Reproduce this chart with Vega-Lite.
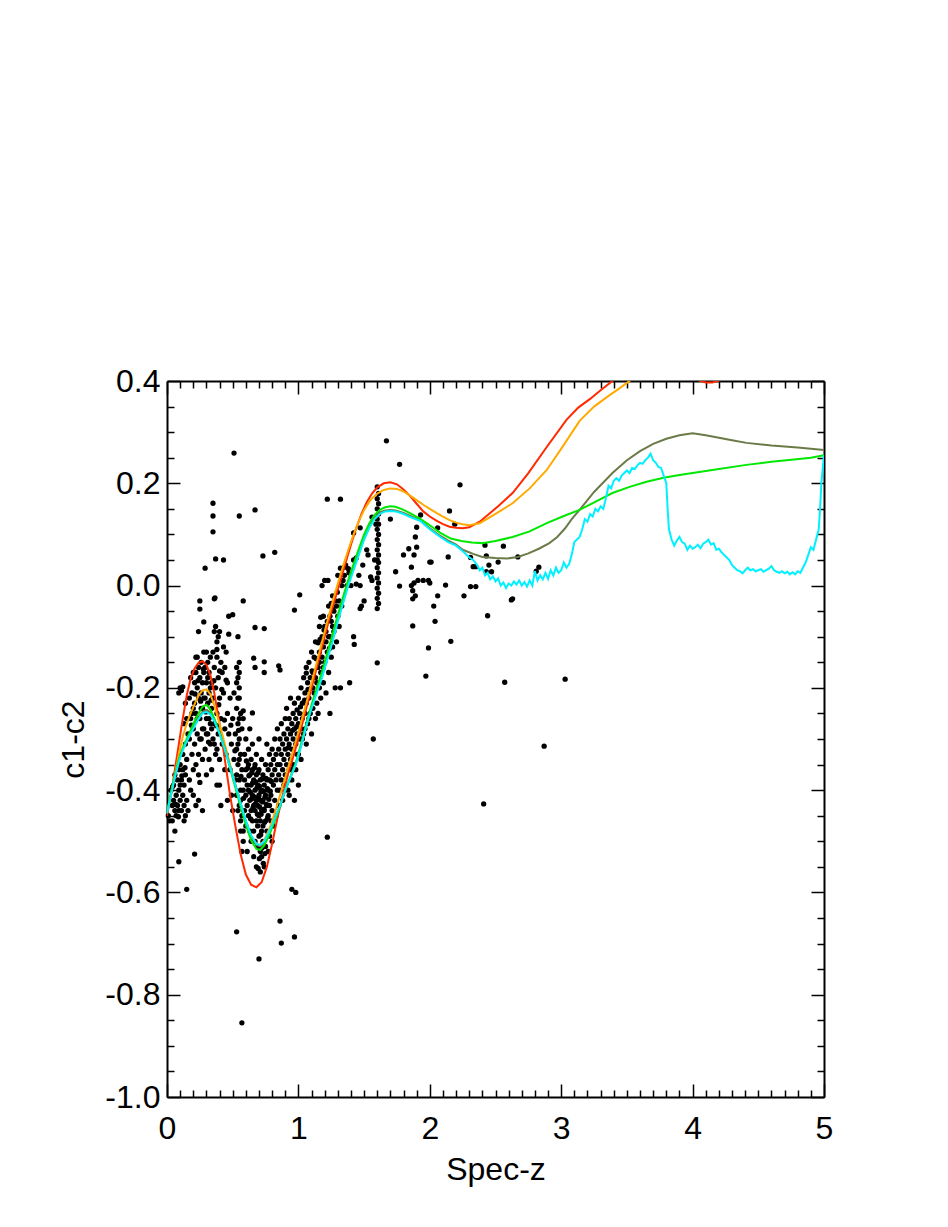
{
"$schema":"https://vega.github.io/schema/vega-lite/v6.json",
"width":657,"height":716,
"autosize":{"type":"none"},
"padding":{"left":167,"top":381,"right":124,"bottom":130},
"background":"white",
"config":{"view":{"stroke":null},"font":"Liberation Sans","axis":{"grid":false,"domainColor":"black","domainWidth":2,"tickColor":"black","tickWidth":1.5,"labelColor":"black","titleColor":"black","labelFont":"Liberation Sans","titleFont":"Liberation Sans","labelFontSize":32,"titleFontSize":32,"titleFontWeight":"normal","labelOverlap":false,"labelBound":false,"labelFlush":false}},
"datasets":{
"pts":[
{"z":0.01,"c":-0.45},{"z":0.02,"c":-0.46},{"z":0.04,"c":-0.46},{"z":0.05,"c":-0.42},{"z":0.05,"c":-0.39},{"z":0.06,"c":-0.44},{"z":0.06,"c":-0.37},{"z":0.07,"c":-0.41},{"z":0.07,"c":-0.45},{"z":0.08,"c":-0.38},{"z":0.08,"c":-0.43},{"z":0.09,"c":-0.36},{"z":0.09,"c":-0.40},{"z":0.09,"c":-0.44},{"z":0.10,"c":-0.39},{"z":0.10,"c":-0.42},{"z":0.10,"c":-0.35},{"z":0.11,"c":-0.38},{"z":0.11,"c":-0.44},{"z":0.12,"c":-0.41},{"z":0.12,"c":-0.36},{"z":0.12,"c":-0.33},{"z":0.13,"c":-0.39},{"z":0.13,"c":-0.43},{"z":0.14,"c":-0.37},{"z":0.14,"c":-0.31},{"z":0.15,"c":-0.34},{"z":0.15,"c":-0.42},{"z":0.16,"c":-0.29},{"z":0.03,"c":-0.40},{"z":0.04,"c":-0.43},{"z":0.11,"c":-0.33},{"z":0.09,"c":-0.21},{"z":0.10,"c":-0.20},{"z":0.11,"c":-0.205},{"z":0.12,"c":-0.198},{"z":0.14,"c":-0.23},{"z":0.13,"c":-0.27},{"z":0.15,"c":-0.26},{"z":0.09,"c":-0.54},{"z":0.15,"c":-0.594},{"z":0.21,"c":-0.525},{"z":0.06,"c":-0.48},{"z":0.13,"c":-0.46},
{"z":0.17,"c":-0.22},{"z":0.17,"c":-0.30},{"z":0.18,"c":-0.26},{"z":0.18,"c":-0.18},{"z":0.19,"c":-0.21},{"z":0.19,"c":-0.33},{"z":0.20,"c":-0.24},{"z":0.20,"c":-0.17},{"z":0.20,"c":-0.28},{"z":0.21,"c":-0.19},{"z":0.21,"c":-0.31},{"z":0.22,"c":-0.14},{"z":0.22,"c":-0.17},{"z":0.22,"c":-0.25},{"z":0.22,"c":-0.35},{"z":0.23,"c":-0.20},{"z":0.23,"c":-0.29},{"z":0.23,"c":-0.14},{"z":0.24,"c":-0.16},{"z":0.24,"c":-0.22},{"z":0.24,"c":-0.09},{"z":0.24,"c":-0.33},{"z":0.25,"c":-0.18},{"z":0.25,"c":-0.385},{"z":0.25,"c":-0.03},{"z":0.25,"c":-0.046},{"z":0.25,"c":-0.26},{"z":0.26,"c":-0.21},{"z":0.26,"c":-0.30},{"z":0.26,"c":-0.15},{"z":0.27,"c":-0.19},{"z":0.27,"c":-0.24},{"z":0.27,"c":-0.34},{"z":0.28,"c":-0.071},{"z":0.28,"c":-0.17},{"z":0.28,"c":-0.28},{"z":0.28,"c":-0.13},{"z":0.29,"c":0.034},{"z":0.29,"c":-0.22},{"z":0.29,"c":-0.32},{"z":0.30,"c":-0.13},{"z":0.30,"c":-0.19},{"z":0.30,"c":-0.26},{"z":0.30,"c":-0.37},{"z":0.20,"c":-0.41},{"z":0.22,"c":-0.43},{"z":0.18,"c":-0.40},{"z":0.27,"c":-0.44},{"z":0.24,"c":-0.42},
{"z":0.19,"c":-0.25},{"z":0.21,"c":-0.23},{"z":0.23,"c":-0.26},{"z":0.26,"c":-0.24},{"z":0.28,"c":-0.22},{"z":0.30,"c":-0.29},{"z":0.32,"c":-0.26},{"z":0.34,"c":-0.28},{"z":0.36,"c":-0.31},{"z":0.38,"c":-0.32},{"z":0.33,"c":-0.20},{"z":0.31,"c":-0.18},{"z":0.29,"c":-0.16},{"z":0.27,"c":-0.28},{"z":0.25,"c":-0.30},{"z":0.24,"c":-0.37},{"z":0.20,"c":-0.36},{"z":0.17,"c":-0.38},{"z":0.16,"c":-0.44},{"z":0.14,"c":-0.45},
{"z":0.31,"c":-0.15},{"z":0.31,"c":-0.29},{"z":0.31,"c":-0.23},{"z":0.32,"c":-0.17},{"z":0.32,"c":-0.34},{"z":0.32,"c":-0.21},{"z":0.33,"c":-0.14},{"z":0.33,"c":-0.27},{"z":0.33,"c":-0.31},{"z":0.34,"c":-0.19},{"z":0.34,"c":-0.24},{"z":0.34,"c":-0.36},{"z":0.35,"c":0.161},{"z":0.35,"c":0.136},{"z":0.35,"c":0.105},{"z":0.35,"c":-0.13},{"z":0.35,"c":-0.22},{"z":0.35,"c":-0.30},{"z":0.36,"c":-0.026},{"z":0.365,"c":-0.024},{"z":0.36,"c":-0.09},{"z":0.36,"c":-0.16},{"z":0.36,"c":-0.27},{"z":0.37,"c":0.052},{"z":0.37,"c":-0.08},{"z":0.37,"c":-0.20},{"z":0.37,"c":-0.33},{"z":0.38,"c":-0.11},{"z":0.38,"c":-0.125},{"z":0.38,"c":-0.14},{"z":0.38,"c":-0.25},{"z":0.38,"c":-0.39},{"z":0.39,"c":-0.10},{"z":0.39,"c":-0.18},{"z":0.39,"c":-0.29},{"z":0.40,"c":-0.167},{"z":0.40,"c":-0.09},{"z":0.40,"c":-0.22},{"z":0.40,"c":-0.39},{"z":0.40,"c":-0.34},{"z":0.41,"c":-0.15},{"z":0.41,"c":-0.26},{"z":0.41,"c":-0.43},{"z":0.42,"c":-0.17},{"z":0.42,"c":-0.31},{"z":0.43,"c":0.05},{"z":0.43,"c":-0.12},{"z":0.43,"c":-0.21},{"z":0.44,"c":-0.16},{"z":0.44,"c":-0.28},{"z":0.44,"c":-0.36},{"z":0.45,"c":-0.185},{"z":0.45,"c":-0.13},{"z":0.45,"c":-0.33},{"z":0.46,"c":-0.19},{"z":0.46,"c":-0.25},{"z":0.46,"c":-0.42},
{"z":0.47,"c":-0.06},{"z":0.47,"c":-0.095},{"z":0.47,"c":-0.29},{"z":0.48,"c":-0.22},{"z":0.48,"c":-0.36},{"z":0.49,"c":-0.31},{"z":0.49,"c":-0.41},{"z":0.50,"c":-0.057},{"z":0.50,"c":-0.26},{"z":0.50,"c":-0.44},{"z":0.51,"c":0.259},{"z":0.51,"c":-0.34},{"z":0.51,"c":-0.21},{"z":0.52,"c":-0.38},{"z":0.52,"c":-0.29},{"z":0.53,"c":-0.16},{"z":0.53,"c":-0.24},{"z":0.53,"c":-0.32},{"z":0.53,"c":-0.41},{"z":0.53,"c":-0.677},{"z":0.54,"c":-0.10},{"z":0.54,"c":-0.18},{"z":0.54,"c":-0.27},{"z":0.54,"c":-0.35},{"z":0.54,"c":-0.44},{"z":0.55,"c":0.136},{"z":0.55,"c":-0.15},{"z":0.55,"c":-0.17},{"z":0.55,"c":-0.20},{"z":0.55,"c":-0.22},{"z":0.55,"c":-0.30},{"z":0.55,"c":-0.38},{"z":0.56,"c":-0.25},{"z":0.56,"c":-0.33},{"z":0.56,"c":-0.42},{"z":0.56,"c":-0.46},{"z":0.57,"c":-0.855},{"z":0.57,"c":-0.28},{"z":0.57,"c":-0.36},{"z":0.58,"c":-0.03},{"z":0.58,"c":-0.245},{"z":0.58,"c":-0.26},{"z":0.58,"c":-0.40},{"z":0.58,"c":-0.48},
{"z":0.53,"c":-0.19},{"z":0.54,"c":-0.22},{"z":0.55,"c":-0.26},{"z":0.54,"c":-0.31},{"z":0.55,"c":-0.34},{"z":0.53,"c":-0.37},{"z":0.56,"c":-0.40},{"z":0.55,"c":-0.43},{"z":0.57,"c":-0.45},{"z":0.56,"c":-0.48},{"z":0.58,"c":-0.50},{"z":0.57,"c":-0.52},
{"z":0.59,"c":-0.33},{"z":0.59,"c":-0.38},{"z":0.59,"c":-0.44},{"z":0.60,"c":-0.36},{"z":0.60,"c":-0.41},{"z":0.60,"c":-0.47},{"z":0.60,"c":-0.30},{"z":0.61,"c":-0.39},{"z":0.61,"c":-0.43},{"z":0.61,"c":-0.52},{"z":0.62,"c":-0.35},{"z":0.62,"c":-0.40},{"z":0.62,"c":-0.45},{"z":0.62,"c":-0.32},{"z":0.63,"c":-0.37},{"z":0.63,"c":-0.42},{"z":0.63,"c":-0.48},{"z":0.63,"c":-0.28},{"z":0.64,"c":-0.34},{"z":0.64,"c":-0.39},{"z":0.64,"c":-0.44},{"z":0.64,"c":-0.50},{"z":0.65,"c":-0.249},{"z":0.65,"c":-0.36},{"z":0.65,"c":-0.41},{"z":0.65,"c":-0.46},{"z":0.65,"c":-0.31},{"z":0.66,"c":-0.142},{"z":0.66,"c":-0.38},{"z":0.66,"c":-0.43},{"z":0.66,"c":-0.48},{"z":0.66,"c":-0.53},{"z":0.67,"c":0.148},{"z":0.67,"c":-0.082},{"z":0.67,"c":-0.16},{"z":0.67,"c":-0.35},{"z":0.67,"c":-0.40},{"z":0.67,"c":-0.44},{"z":0.67,"c":-0.50},{"z":0.68,"c":-0.37},{"z":0.68,"c":-0.42},{"z":0.68,"c":-0.46},{"z":0.68,"c":-0.33},{"z":0.68,"c":-0.55},{"z":0.69,"c":-0.39},{"z":0.69,"c":-0.43},{"z":0.69,"c":-0.47},{"z":0.69,"c":-0.51},{"z":0.70,"c":-0.73},{"z":0.70,"c":-0.36},{"z":0.70,"c":-0.41},{"z":0.70,"c":-0.45},{"z":0.70,"c":-0.49},{"z":0.70,"c":-0.30},{"z":0.71,"c":-0.38},{"z":0.71,"c":-0.42},{"z":0.71,"c":-0.46},{"z":0.71,"c":-0.52},{"z":0.71,"c":-0.56},{"z":0.72,"c":-0.34},{"z":0.72,"c":-0.40},{"z":0.72,"c":-0.44},{"z":0.72,"c":-0.48},{"z":0.72,"c":-0.53},{"z":0.73,"c":0.058},{"z":0.73,"c":-0.37},{"z":0.73,"c":-0.42},{"z":0.73,"c":-0.47},{"z":0.73,"c":-0.50},{"z":0.74,"c":-0.149},{"z":0.74,"c":-0.084},{"z":0.74,"c":-0.17},{"z":0.74,"c":-0.39},{"z":0.74,"c":-0.44},{"z":0.74,"c":-0.55},{"z":0.75,"c":-0.35},{"z":0.75,"c":-0.41},{"z":0.75,"c":-0.46},{"z":0.75,"c":-0.51},{"z":0.76,"c":-0.38},{"z":0.76,"c":-0.43},{"z":0.76,"c":-0.48},{"z":0.76,"c":-0.31},{"z":0.77,"c":-0.36},{"z":0.77,"c":-0.40},{"z":0.77,"c":-0.45},{"z":0.77,"c":-0.52},{"z":0.78,"c":-0.33},{"z":0.78,"c":-0.38},{"z":0.78,"c":-0.43},{"z":0.78,"c":-0.49},{"z":0.79,"c":-0.35},{"z":0.79,"c":-0.41},{"z":0.79,"c":-0.46},{"z":0.80,"c":-0.32},{"z":0.80,"c":-0.37},{"z":0.80,"c":-0.44},{"z":0.80,"c":-0.50},{"z":0.81,"c":-0.39},{"z":0.81,"c":-0.34},{"z":0.81,"c":-0.47},{"z":0.82,"c":0.065},{"z":0.82,"c":-0.36},{"z":0.82,"c":-0.42},{"z":0.82,"c":-0.30},{"z":0.83,"c":-0.38},{"z":0.83,"c":-0.33},{"z":0.83,"c":-0.45},{"z":0.84,"c":-0.35},{"z":0.84,"c":-0.40},{"z":0.84,"c":-0.28},{"z":0.85,"c":-0.157},{"z":0.86,"c":-0.165},{"z":0.85,"c":-0.32},{"z":0.85,"c":-0.37},{"z":0.85,"c":-0.43},{"z":0.86,"c":-0.656},{"z":0.86,"c":-0.30},{"z":0.86,"c":-0.35},{"z":0.86,"c":-0.40},{"z":0.87,"c":-0.699},{"z":0.87,"c":-0.33},{"z":0.87,"c":-0.38},{"z":0.87,"c":-0.27},{"z":0.88,"c":-0.36},{"z":0.88,"c":-0.31},{"z":0.88,"c":-0.42},{"z":0.89,"c":-0.29},{"z":0.89,"c":-0.34},{"z":0.89,"c":-0.39},{"z":0.90,"c":-0.32},{"z":0.90,"c":-0.26},{"z":0.90,"c":-0.37},
{"z":0.623,"c":-0.372},{"z":0.634,"c":-0.404},{"z":0.645,"c":-0.417},{"z":0.652,"c":-0.386},{"z":0.664,"c":-0.413},{"z":0.667,"c":-0.356},{"z":0.676,"c":-0.384},{"z":0.673,"c":-0.427},{"z":0.684,"c":-0.396},{"z":0.688,"c":-0.447},{"z":0.693,"c":-0.366},{"z":0.697,"c":-0.414},{"z":0.705,"c":-0.433},{"z":0.703,"c":-0.392},{"z":0.715,"c":-0.403},{"z":0.716,"c":-0.447},{"z":0.724,"c":-0.378},{"z":0.727,"c":-0.423},{"z":0.735,"c":-0.402},{"z":0.738,"c":-0.437},{"z":0.745,"c":-0.414},{"z":0.743,"c":-0.463},{"z":0.754,"c":-0.377},{"z":0.757,"c":-0.428},{"z":0.764,"c":-0.397},{"z":0.766,"c":-0.454},{"z":0.775,"c":-0.418},{"z":0.786,"c":-0.402},{"z":0.794,"c":-0.383},{"z":0.703,"c":-0.534},{"z":0.722,"c":-0.513},{"z":0.733,"c":-0.543},{"z":0.694,"c":-0.553},{"z":0.745,"c":-0.524},{"z":0.713,"c":-0.487},{"z":0.655,"c":-0.434},{"z":0.636,"c":-0.456},{"z":0.614,"c":-0.357},{"z":0.646,"c":-0.366},{"z":0.604,"c":-0.343},
{"z":0.043,"c":-0.393},{"z":0.067,"c":-0.428},{"z":0.087,"c":-0.452},{"z":0.113,"c":-0.372},{"z":0.137,"c":-0.356},{"z":0.186,"c":-0.273},{"z":0.213,"c":-0.212},{"z":0.236,"c":-0.186},{"z":0.256,"c":-0.226},{"z":0.277,"c":-0.163},{"z":0.296,"c":-0.247},{"z":0.316,"c":-0.306},{"z":0.336,"c":-0.224},{"z":0.357,"c":-0.186},{"z":0.376,"c":-0.274},{"z":0.394,"c":-0.233},{"z":0.417,"c":-0.203},{"z":0.437,"c":-0.263},{"z":0.486,"c":-0.273},{"z":0.517,"c":-0.323},{"z":0.545,"c":-0.283},{"z":0.563,"c":-0.373},{"z":0.583,"c":-0.416},{"z":0.925,"c":-0.317},{"z":0.956,"c":-0.283},{"z":0.987,"c":-0.276},{"z":1.016,"c":-0.237},{"z":1.047,"c":-0.224},{"z":1.073,"c":-0.203},{"z":1.104,"c":-0.167},{"z":1.136,"c":-0.143},{"z":1.165,"c":-0.105},{"z":1.195,"c":-0.087},{"z":1.236,"c":-0.123},{"z":1.263,"c":-0.046},{"z":1.296,"c":-0.013},
{"z":0.91,"c":-0.30},{"z":0.91,"c":-0.24},{"z":0.91,"c":-0.35},{"z":0.92,"c":-0.28},{"z":0.92,"c":-0.33},{"z":0.92,"c":-0.40},{"z":0.93,"c":-0.26},{"z":0.93,"c":-0.31},{"z":0.93,"c":-0.36},{"z":0.94,"c":-0.22},{"z":0.94,"c":-0.29},{"z":0.94,"c":-0.34},{"z":0.95,"c":-0.594},{"z":0.95,"c":-0.27},{"z":0.95,"c":-0.32},{"z":0.95,"c":-0.38},{"z":0.96,"c":-0.25},{"z":0.96,"c":-0.30},{"z":0.96,"c":-0.35},{"z":0.97,"c":-0.048},{"z":0.97,"c":-0.687},{"z":0.97,"c":-0.23},{"z":0.97,"c":-0.28},{"z":0.97,"c":-0.42},{"z":0.98,"c":-0.60},{"z":0.98,"c":-0.26},{"z":0.98,"c":-0.31},{"z":0.98,"c":-0.36},{"z":0.99,"c":-0.243},{"z":0.99,"c":-0.29},{"z":0.99,"c":-0.33},{"z":1.00,"c":-0.22},{"z":1.00,"c":-0.27},{"z":1.00,"c":-0.39},{"z":1.01,"c":-0.018},{"z":1.01,"c":-0.25},{"z":1.01,"c":-0.30},{"z":1.02,"c":-0.20},{"z":1.02,"c":-0.28},{"z":1.02,"c":-0.34},{"z":1.03,"c":-0.23},{"z":1.03,"c":-0.26},{"z":1.04,"c":-0.18},{"z":1.04,"c":-0.29},{"z":1.05,"c":-0.21},{"z":1.05,"c":-0.25},{"z":1.06,"c":-0.171},{"z":1.06,"c":-0.16},{"z":1.06,"c":-0.23},{"z":1.06,"c":-0.31},{"z":1.07,"c":-0.19},{"z":1.07,"c":-0.27},{"z":1.08,"c":-0.15},{"z":1.08,"c":-0.22},{"z":1.09,"c":-0.18},{"z":1.09,"c":-0.25},{"z":1.10,"c":-0.13},{"z":1.10,"c":-0.20},{"z":1.10,"c":-0.29},
{"z":0.93,"c":-0.41},{"z":0.95,"c":-0.36},{"z":1.00,"c":-0.33},{"z":1.03,"c":-0.30},{"z":1.05,"c":-0.28},{"z":1.08,"c":-0.26},{"z":1.11,"c":-0.20},{"z":1.13,"c":-0.18},{"z":1.16,"c":-0.15},{"z":1.19,"c":-0.16},{"z":1.21,"c":-0.09},{"z":1.23,"c":-0.10},{"z":1.24,"c":-0.06},{"z":1.26,"c":-0.08},{"z":1.29,"c":-0.04},{"z":1.31,"c":-0.03},{"z":1.33,"c":0.0},{"z":1.35,"c":0.02},
{"z":1.11,"c":-0.17},{"z":1.11,"c":-0.24},{"z":1.12,"c":-0.14},{"z":1.12,"c":-0.21},{"z":1.13,"c":-0.26},{"z":1.13,"c":-0.11},{"z":1.14,"c":-0.19},{"z":1.14,"c":-0.23},{"z":1.15,"c":-0.112},{"z":1.15,"c":-0.16},{"z":1.15,"c":-0.25},{"z":1.16,"c":-0.08},{"z":1.16,"c":-0.13},{"z":1.16,"c":-0.20},{"z":1.17,"c":-0.062},{"z":1.17,"c":-0.17},{"z":1.17,"c":-0.22},{"z":1.18,"c":0.0},{"z":1.18,"c":-0.10},{"z":1.18,"c":-0.14},{"z":1.19,"c":-0.06},{"z":1.19,"c":-0.12},{"z":1.19,"c":-0.19},{"z":1.20,"c":0.01},{"z":1.20,"c":-0.08},{"z":1.20,"c":-0.15},{"z":1.21,"c":-0.11},{"z":1.21,"c":-0.21},{"z":1.22,"c":0.169},{"z":1.22,"c":-0.492},{"z":1.225,"c":0.01},{"z":1.22,"c":-0.07},{"z":1.22,"c":-0.13},{"z":1.23,"c":-0.04},{"z":1.23,"c":-0.17},{"z":1.24,"c":-0.10},{"z":1.24,"c":-0.25},{"z":1.25,"c":-0.035},{"z":1.25,"c":-0.07},{"z":1.25,"c":-0.14},{"z":1.26,"c":-0.02},{"z":1.26,"c":-0.12},{"z":1.27,"c":-0.05},{"z":1.27,"c":-0.09},{"z":1.28,"c":-0.20},{"z":1.28,"c":-0.03},{"z":1.29,"c":-0.11},{"z":1.30,"c":-0.06},{"z":1.30,"c":0.02},{"z":1.31,"c":-0.08},{"z":1.32,"c":0.169},{"z":1.32,"c":0.034},{"z":1.32,"c":-0.20},{"z":1.33,"c":-0.04},{"z":1.34,"c":0.01},{"z":1.35,"c":0.036},{"z":1.36,"c":0.04},{"z":1.37,"c":0.0},{"z":1.38,"c":0.033},{"z":1.385,"c":0.025},{"z":1.39,"c":-0.19},{"z":1.40,"c":0.0},{"z":1.42,"c":0.103},{"z":1.42,"c":0.05},{"z":1.42,"c":-0.10},{"z":1.425,"c":-0.115},{"z":1.44,"c":0.054},{"z":1.44,"c":0.003},{"z":1.46,"c":0.02},{"z":1.47,"c":0.113},{"z":1.47,"c":0.0},{"z":1.47,"c":-0.045},{"z":1.48,"c":-0.04},{"z":1.49,"c":0.04},{"z":1.50,"c":-0.03},{"z":1.53,"c":0.06},{"z":1.55,"c":0.017},{"z":1.56,"c":0.01},{"z":1.57,"c":-0.30},{"z":1.56,"c":0.134},{"z":1.52,"c":0.07},
{"z":1.60,"c":0.193},{"z":1.61,"c":0.18},{"z":1.60,"c":0.17},{"z":1.61,"c":0.16},{"z":1.60,"c":0.15},{"z":1.61,"c":0.14},{"z":1.60,"c":0.13},{"z":1.61,"c":0.12},{"z":1.60,"c":0.11},{"z":1.61,"c":0.10},{"z":1.60,"c":0.09},{"z":1.61,"c":0.08},{"z":1.60,"c":0.07},{"z":1.61,"c":0.06},{"z":1.60,"c":0.05},{"z":1.61,"c":0.045},{"z":1.60,"c":0.035},{"z":1.61,"c":0.025},{"z":1.60,"c":0.015},{"z":1.61,"c":0.005},{"z":1.60,"c":-0.005},{"z":1.61,"c":-0.015},{"z":1.60,"c":-0.025},{"z":1.61,"c":-0.035},{"z":1.60,"c":-0.045},{"z":1.60,"c":-0.151},{"z":1.58,"c":0.05},{"z":1.59,"c":0.12},
{"z":1.67,"c":0.283},{"z":1.77,"c":0.237},{"z":2.23,"c":0.197},{"z":2.15,"c":0.146},{"z":2.19,"c":0.12},{"z":1.93,"c":0.138},{"z":1.90,"c":0.114},{"z":1.89,"c":0.095},{"z":1.90,"c":0.075},{"z":1.84,"c":0.072},{"z":1.88,"c":0.06},{"z":1.86,"c":0.036},{"z":1.74,"c":0.027},{"z":1.77,"c":-0.001},{"z":1.86,"c":0.0},{"z":1.87,"c":-0.01},{"z":1.89,"c":-0.02},{"z":1.88,"c":0.005},{"z":1.91,"c":0.01},{"z":1.87,"c":-0.026},{"z":1.95,"c":0.01},{"z":1.99,"c":0.01},{"z":2.00,"c":0.046},{"z":2.01,"c":0.046},{"z":2.00,"c":0.005},{"z":1.99,"c":-0.122},{"z":1.97,"c":-0.177},{"z":1.87,"c":-0.079},{"z":2.03,"c":-0.04},{"z":2.06,"c":-0.02},{"z":2.04,"c":-0.07},{"z":2.06,"c":0.113},{"z":2.12,"c":0.001},{"z":2.14,"c":0.056},{"z":2.16,"c":-0.109},{"z":2.26,"c":-0.02},{"z":2.31,"c":-0.002},{"z":2.35,"c":-0.002},{"z":2.31,"c":0.055},{"z":2.33,"c":0.037},{"z":2.35,"c":0.037},{"z":2.42,"c":0.079},{"z":2.43,"c":0.058},{"z":2.45,"c":0.04},{"z":2.44,"c":-0.059},{"z":2.43,"c":0.027},{"z":2.47,"c":0.027},{"z":2.56,"c":0.077},{"z":2.52,"c":0.046},{"z":2.67,"c":0.056},{"z":2.81,"c":0.028},{"z":2.83,"c":0.036},{"z":2.62,"c":-0.028},{"z":2.63,"c":-0.026},{"z":2.57,"c":-0.189},{"z":3.03,"c":-0.183},{"z":2.87,"c":-0.314},{"z":2.41,"c":-0.427},{"z":1.80,"c":0.06},{"z":1.70,"c":0.13}
],
"red":[
{"z":0.00,"c":-0.45},{"z":0.03,"c":-0.41},{"z":0.06,"c":-0.36},{"z":0.09,"c":-0.31},{"z":0.12,"c":-0.26},{"z":0.15,"c":-0.215},{"z":0.18,"c":-0.182},{"z":0.21,"c":-0.162},{"z":0.24,"c":-0.151},{"z":0.27,"c":-0.148},{"z":0.30,"c":-0.155},{"z":0.33,"c":-0.175},{"z":0.36,"c":-0.21},{"z":0.40,"c":-0.27},{"z":0.44,"c":-0.34},{"z":0.48,"c":-0.41},{"z":0.52,"c":-0.47},{"z":0.56,"c":-0.525},{"z":0.60,"c":-0.565},{"z":0.64,"c":-0.585},{"z":0.68,"c":-0.59},{"z":0.72,"c":-0.58},{"z":0.76,"c":-0.55},{"z":0.80,"c":-0.505},{"z":0.84,"c":-0.455},{"z":0.88,"c":-0.41},{"z":0.92,"c":-0.37},{"z":0.96,"c":-0.335},{"z":1.00,"c":-0.30},{"z":1.04,"c":-0.26},{"z":1.08,"c":-0.22},{"z":1.12,"c":-0.18},{"z":1.16,"c":-0.14},{"z":1.20,"c":-0.10},{"z":1.24,"c":-0.06},{"z":1.28,"c":-0.025},{"z":1.32,"c":0.01},{"z":1.36,"c":0.045},{"z":1.40,"c":0.08},{"z":1.44,"c":0.112},{"z":1.48,"c":0.14},{"z":1.52,"c":0.163},{"z":1.56,"c":0.18},{"z":1.60,"c":0.192},{"z":1.65,"c":0.2},{"z":1.70,"c":0.202},{"z":1.75,"c":0.198},{"z":1.80,"c":0.188},{"z":1.85,"c":0.175},{"z":1.90,"c":0.16},{"z":1.95,"c":0.145},{"z":2.00,"c":0.135},{"z":2.05,"c":0.127},{"z":2.10,"c":0.12},{"z":2.15,"c":0.115},{"z":2.20,"c":0.113},{"z":2.25,"c":0.112},{"z":2.30,"c":0.114},{"z":2.38,"c":0.125},{"z":2.45,"c":0.14},{"z":2.52,"c":0.155},{"z":2.63,"c":0.181},{"z":2.75,"c":0.22},{"z":2.89,"c":0.271},{"z":3.04,"c":0.324},{"z":3.13,"c":0.348},{"z":3.22,"c":0.365},{"z":3.30,"c":0.382},{"z":3.39,"c":0.40},{"z":3.5,"c":0.43},{"z":3.7,"c":0.46},{"z":3.9,"c":0.44},{"z":4.0,"c":0.41},{"z":4.05,"c":0.401},{"z":4.1,"c":0.397},{"z":4.15,"c":0.397},{"z":4.2,"c":0.401},{"z":4.25,"c":0.41},{"z":4.4,"c":0.44}
],
"orange":[
{"z":0.00,"c":-0.445},{"z":0.03,"c":-0.41},{"z":0.06,"c":-0.37},{"z":0.09,"c":-0.33},{"z":0.12,"c":-0.295},{"z":0.15,"c":-0.27},{"z":0.18,"c":-0.25},{"z":0.21,"c":-0.232},{"z":0.24,"c":-0.215},{"z":0.27,"c":-0.205},{"z":0.30,"c":-0.203},{"z":0.33,"c":-0.212},{"z":0.36,"c":-0.235},{"z":0.40,"c":-0.27},{"z":0.44,"c":-0.31},{"z":0.48,"c":-0.35},{"z":0.52,"c":-0.39},{"z":0.56,"c":-0.428},{"z":0.60,"c":-0.462},{"z":0.64,"c":-0.49},{"z":0.68,"c":-0.505},{"z":0.71,"c":-0.507},{"z":0.74,"c":-0.498},{"z":0.78,"c":-0.475},{"z":0.82,"c":-0.445},{"z":0.86,"c":-0.41},{"z":0.90,"c":-0.375},{"z":0.94,"c":-0.34},{"z":0.98,"c":-0.305},{"z":1.02,"c":-0.268},{"z":1.06,"c":-0.23},{"z":1.10,"c":-0.19},{"z":1.14,"c":-0.15},{"z":1.18,"c":-0.11},{"z":1.22,"c":-0.07},{"z":1.26,"c":-0.032},{"z":1.30,"c":0.004},{"z":1.34,"c":0.038},{"z":1.38,"c":0.07},{"z":1.42,"c":0.1},{"z":1.46,"c":0.126},{"z":1.50,"c":0.148},{"z":1.55,"c":0.168},{"z":1.60,"c":0.18},{"z":1.65,"c":0.187},{"z":1.70,"c":0.19},{"z":1.75,"c":0.189},{"z":1.80,"c":0.184},{"z":1.85,"c":0.176},{"z":1.90,"c":0.167},{"z":1.95,"c":0.158},{"z":2.00,"c":0.15},{"z":2.05,"c":0.142},{"z":2.10,"c":0.135},{"z":2.15,"c":0.128},{"z":2.20,"c":0.123},{"z":2.25,"c":0.12},{"z":2.30,"c":0.118},{"z":2.38,"c":0.122},{"z":2.50,"c":0.14},{"z":2.63,"c":0.161},{"z":2.76,"c":0.19},{"z":2.89,"c":0.226},{"z":3.02,"c":0.275},{"z":3.14,"c":0.322},{"z":3.25,"c":0.35},{"z":3.35,"c":0.369},{"z":3.44,"c":0.385},{"z":3.52,"c":0.40},{"z":3.6,"c":0.415},{"z":3.8,"c":0.45}
],
"olive":[
{"z":0.00,"c":-0.445},{"z":0.03,"c":-0.408},{"z":0.06,"c":-0.373},{"z":0.09,"c":-0.343},{"z":0.12,"c":-0.32},{"z":0.15,"c":-0.303},{"z":0.18,"c":-0.287},{"z":0.21,"c":-0.272},{"z":0.24,"c":-0.258},{"z":0.27,"c":-0.247},{"z":0.30,"c":-0.243},{"z":0.33,"c":-0.248},{"z":0.36,"c":-0.262},{"z":0.40,"c":-0.288},{"z":0.44,"c":-0.318},{"z":0.48,"c":-0.353},{"z":0.52,"c":-0.389},{"z":0.56,"c":-0.425},{"z":0.60,"c":-0.461},{"z":0.64,"c":-0.49},{"z":0.68,"c":-0.507},{"z":0.71,"c":-0.51},{"z":0.74,"c":-0.503},{"z":0.78,"c":-0.483},{"z":0.82,"c":-0.457},{"z":0.86,"c":-0.431},{"z":0.90,"c":-0.401},{"z":0.94,"c":-0.375},{"z":0.98,"c":-0.349},{"z":1.02,"c":-0.313},{"z":1.06,"c":-0.273},{"z":1.10,"c":-0.238},{"z":1.14,"c":-0.207},{"z":1.18,"c":-0.176},{"z":1.22,"c":-0.141},{"z":1.26,"c":-0.106},{"z":1.30,"c":-0.066},{"z":1.34,"c":-0.031},{"z":1.38,"c":0.004},{"z":1.42,"c":0.034},{"z":1.46,"c":0.063},{"z":1.50,"c":0.092},{"z":1.54,"c":0.116},{"z":1.58,"c":0.133},{"z":1.62,"c":0.143},{"z":1.66,"c":0.147},{"z":1.70,"c":0.148},{"z":1.74,"c":0.147},{"z":1.80,"c":0.142},{"z":1.86,"c":0.135},{"z":1.93,"c":0.127},{"z":2.00,"c":0.112},{"z":2.08,"c":0.097},{"z":2.14,"c":0.088},{"z":2.20,"c":0.08},{"z":2.25,"c":0.07},{"z":2.33,"c":0.062},{"z":2.40,"c":0.056},{"z":2.50,"c":0.054},{"z":2.59,"c":0.053},{"z":2.67,"c":0.056},{"z":2.75,"c":0.063},{"z":2.83,"c":0.072},{"z":2.91,"c":0.083},{"z":2.97,"c":0.095},{"z":3.03,"c":0.112},{"z":3.08,"c":0.13},{"z":3.14,"c":0.148},{"z":3.25,"c":0.183},{"z":3.39,"c":0.22},{"z":3.5,"c":0.245},{"z":3.6,"c":0.263},{"z":3.7,"c":0.277},{"z":3.8,"c":0.287},{"z":3.9,"c":0.294},{"z":4.0,"c":0.298},{"z":4.1,"c":0.294},{"z":4.2,"c":0.289},{"z":4.3,"c":0.284},{"z":4.41,"c":0.279},{"z":4.6,"c":0.274},{"z":4.8,"c":0.27},{"z":5.0,"c":0.265}
],
"green":[
{"z":0.00,"c":-0.445},{"z":0.03,"c":-0.405},{"z":0.06,"c":-0.37},{"z":0.09,"c":-0.34},{"z":0.12,"c":-0.317},{"z":0.15,"c":-0.30},{"z":0.18,"c":-0.283},{"z":0.21,"c":-0.265},{"z":0.24,"c":-0.25},{"z":0.27,"c":-0.237},{"z":0.30,"c":-0.233},{"z":0.33,"c":-0.242},{"z":0.36,"c":-0.26},{"z":0.40,"c":-0.288},{"z":0.44,"c":-0.32},{"z":0.48,"c":-0.357},{"z":0.52,"c":-0.395},{"z":0.56,"c":-0.432},{"z":0.60,"c":-0.468},{"z":0.64,"c":-0.498},{"z":0.68,"c":-0.515},{"z":0.71,"c":-0.517},{"z":0.74,"c":-0.508},{"z":0.78,"c":-0.487},{"z":0.82,"c":-0.46},{"z":0.86,"c":-0.432},{"z":0.90,"c":-0.40},{"z":0.94,"c":-0.373},{"z":0.98,"c":-0.347},{"z":1.02,"c":-0.31},{"z":1.06,"c":-0.27},{"z":1.10,"c":-0.233},{"z":1.14,"c":-0.20},{"z":1.18,"c":-0.168},{"z":1.22,"c":-0.132},{"z":1.26,"c":-0.095},{"z":1.30,"c":-0.057},{"z":1.34,"c":-0.022},{"z":1.38,"c":0.012},{"z":1.42,"c":0.042},{"z":1.46,"c":0.072},{"z":1.50,"c":0.10},{"z":1.54,"c":0.122},{"z":1.58,"c":0.138},{"z":1.62,"c":0.148},{"z":1.66,"c":0.153},{"z":1.70,"c":0.155},{"z":1.74,"c":0.154},{"z":1.80,"c":0.148},{"z":1.86,"c":0.14},{"z":1.93,"c":0.13},{"z":2.00,"c":0.118},{"z":2.08,"c":0.103},{"z":2.16,"c":0.092},{"z":2.24,"c":0.087},{"z":2.32,"c":0.084},{"z":2.40,"c":0.083},{"z":2.50,"c":0.087},{"z":2.63,"c":0.095},{"z":2.76,"c":0.106},{"z":2.89,"c":0.122},{"z":3.02,"c":0.136},{"z":3.14,"c":0.148},{"z":3.27,"c":0.165},{"z":3.39,"c":0.181},{"z":3.52,"c":0.193},{"z":3.65,"c":0.203},{"z":3.78,"c":0.211},{"z":3.90,"c":0.216},{"z":4.15,"c":0.226},{"z":4.41,"c":0.236},{"z":4.60,"c":0.242},{"z":4.79,"c":0.247},{"z":4.90,"c":0.25},{"z":5.0,"c":0.255}
],
"cyan":[
{"z":0.00,"c":-0.445},{"z":0.03,"c":-0.41},{"z":0.06,"c":-0.375},{"z":0.09,"c":-0.345},{"z":0.12,"c":-0.322},{"z":0.15,"c":-0.305},{"z":0.18,"c":-0.29},{"z":0.21,"c":-0.275},{"z":0.24,"c":-0.261},{"z":0.27,"c":-0.25},{"z":0.30,"c":-0.247},{"z":0.33,"c":-0.252},{"z":0.36,"c":-0.265},{"z":0.40,"c":-0.29},{"z":0.44,"c":-0.32},{"z":0.48,"c":-0.355},{"z":0.52,"c":-0.39},{"z":0.56,"c":-0.425},{"z":0.60,"c":-0.46},{"z":0.64,"c":-0.488},{"z":0.68,"c":-0.505},{"z":0.71,"c":-0.507},{"z":0.74,"c":-0.50},{"z":0.78,"c":-0.48},{"z":0.82,"c":-0.455},{"z":0.86,"c":-0.43},{"z":0.90,"c":-0.40},{"z":0.94,"c":-0.375},{"z":0.98,"c":-0.35},{"z":1.02,"c":-0.315},{"z":1.06,"c":-0.275},{"z":1.10,"c":-0.24},{"z":1.14,"c":-0.21},{"z":1.18,"c":-0.18},{"z":1.22,"c":-0.145},{"z":1.26,"c":-0.11},{"z":1.30,"c":-0.07},{"z":1.34,"c":-0.035},{"z":1.38,"c":0.0},{"z":1.42,"c":0.03},{"z":1.46,"c":0.06},{"z":1.50,"c":0.09},{"z":1.54,"c":0.113},{"z":1.58,"c":0.13},{"z":1.62,"c":0.14},{"z":1.66,"c":0.145},{"z":1.70,"c":0.146},{"z":1.74,"c":0.145},{"z":1.80,"c":0.14},{"z":1.86,"c":0.133},{"z":1.93,"c":0.126},{"z":2.00,"c":0.11},{"z":2.08,"c":0.095},{"z":2.14,"c":0.085},{"z":2.20,"c":0.078},{"z":2.26,"c":0.065},{"z":2.30,"c":0.055},{"z":2.33,"c":0.05},{"z":2.36,"c":0.04},
{"z":2.38,"c":0.03},{"z":2.40,"c":0.035},{"z":2.42,"c":0.02},{"z":2.44,"c":0.025},{"z":2.46,"c":0.012},{"z":2.48,"c":0.018},{"z":2.50,"c":0.008},{"z":2.52,"c":0.014},{"z":2.54,"c":0.0},{"z":2.56,"c":0.006},{"z":2.58,"c":-0.005},{"z":2.60,"c":0.004},{"z":2.62,"c":0.0},{"z":2.64,"c":0.008},{"z":2.66,"c":0.002},{"z":2.68,"c":0.01},{"z":2.70,"c":0.0},{"z":2.72,"c":0.007},{"z":2.74,"c":-0.002},{"z":2.76,"c":0.01},{"z":2.78,"c":0.0},{"z":2.80,"c":0.028},{"z":2.82,"c":0.01},{"z":2.84,"c":0.02},{"z":2.86,"c":0.012},{"z":2.88,"c":0.025},{"z":2.90,"c":0.013},{"z":2.92,"c":0.03},{"z":2.94,"c":0.02},{"z":2.96,"c":0.035},{"z":2.98,"c":0.025},{"z":3.00,"c":0.03},{"z":3.02,"c":0.045},{"z":3.04,"c":0.035},{"z":3.06,"c":0.042},{"z":3.08,"c":0.06},{"z":3.10,"c":0.085},{"z":3.12,"c":0.09},{"z":3.14,"c":0.095},{"z":3.16,"c":0.11},{"z":3.18,"c":0.13},{"z":3.20,"c":0.125},{"z":3.22,"c":0.14},{"z":3.24,"c":0.135},{"z":3.26,"c":0.15},{"z":3.28,"c":0.145},{"z":3.30,"c":0.155},{"z":3.32,"c":0.15},{"z":3.34,"c":0.17},{"z":3.36,"c":0.195},{"z":3.38,"c":0.19},{"z":3.40,"c":0.205},{"z":3.42,"c":0.21},{"z":3.44,"c":0.205},{"z":3.46,"c":0.215},{"z":3.48,"c":0.22},{"z":3.50,"c":0.225},{"z":3.52,"c":0.22},{"z":3.54,"c":0.23},{"z":3.56,"c":0.228},{"z":3.58,"c":0.235},{"z":3.60,"c":0.24},{"z":3.62,"c":0.238},{"z":3.64,"c":0.245},{"z":3.66,"c":0.25},{"z":3.68,"c":0.258},{"z":3.70,"c":0.245},{"z":3.72,"c":0.24},{"z":3.74,"c":0.232},{"z":3.76,"c":0.23},{"z":3.78,"c":0.215},{"z":3.80,"c":0.20},{"z":3.81,"c":0.15},{"z":3.82,"c":0.11},{"z":3.84,"c":0.09},{"z":3.86,"c":0.078},{"z":3.88,"c":0.088},{"z":3.90,"c":0.095},{"z":3.92,"c":0.085},{"z":3.94,"c":0.082},{"z":3.96,"c":0.07},{"z":3.98,"c":0.078},{"z":4.00,"c":0.072},{"z":4.02,"c":0.075},{"z":4.04,"c":0.08},{"z":4.06,"c":0.073},{"z":4.08,"c":0.082},{"z":4.10,"c":0.085},{"z":4.12,"c":0.09},{"z":4.14,"c":0.08},{"z":4.16,"c":0.083},{"z":4.18,"c":0.07},{"z":4.20,"c":0.072},{"z":4.22,"c":0.065},{"z":4.24,"c":0.06},{"z":4.26,"c":0.055},{"z":4.28,"c":0.05},{"z":4.30,"c":0.04},{"z":4.32,"c":0.035},{"z":4.34,"c":0.03},{"z":4.36,"c":0.028},{"z":4.38,"c":0.024},{"z":4.40,"c":0.03},{"z":4.42,"c":0.035},{"z":4.44,"c":0.03},{"z":4.46,"c":0.032},{"z":4.48,"c":0.028},{"z":4.50,"c":0.03},{"z":4.52,"c":0.032},{"z":4.54,"c":0.027},{"z":4.56,"c":0.03},{"z":4.58,"c":0.033},{"z":4.60,"c":0.038},{"z":4.62,"c":0.03},{"z":4.64,"c":0.027},{"z":4.66,"c":0.025},{"z":4.68,"c":0.028},{"z":4.70,"c":0.024},{"z":4.72,"c":0.027},{"z":4.74,"c":0.022},{"z":4.76,"c":0.026},{"z":4.78,"c":0.022},{"z":4.80,"c":0.028},{"z":4.82,"c":0.025},{"z":4.84,"c":0.035},{"z":4.86,"c":0.045},{"z":4.88,"c":0.06},{"z":4.90,"c":0.075},{"z":4.92,"c":0.07},{"z":4.94,"c":0.09},{"z":4.96,"c":0.11},{"z":4.97,"c":0.15},{"z":4.98,"c":0.20},{"z":5.00,"c":0.255}
]
},
"resolve":{"axis":{"x":"independent","y":"independent"}},
"layer":[
{"data":{"name":"pts"},"mark":{"type":"circle","size":28,"color":"black","opacity":1},
 "encoding":{
  "x":{"field":"z","type":"quantitative","scale":{"domain":[0,5],"nice":false,"zero":false},
   "axis":{"orient":"bottom","values":[0,0.1,0.2,0.3,0.4,0.5,0.6,0.7,0.8,0.9,1,1.1,1.2,1.3,1.4,1.5,1.6,1.7,1.8,1.9,2,2.1,2.2,2.3,2.4,2.5,2.6,2.7,2.8,2.9,3,3.1,3.2,3.3,3.4,3.5,3.6,3.7,3.8,3.9,4,4.1,4.2,4.3,4.4,4.5,4.6,4.7,4.8,4.9,5],
    "tickSize":{"condition":{"test":"abs(round(datum.value*10))%10===0","value":-13},"value":-7},
    "labelExpr":"abs(round(datum.value*10))%10===0 ? format(datum.value,'d') : ''",
    "labelPadding":29,"title":"Spec-z","titlePadding":4}},
  "y":{"field":"c","type":"quantitative","scale":{"domain":[-1,0.4],"nice":false,"zero":false},
   "axis":{"orient":"left","values":[-1,-0.95,-0.9,-0.85,-0.8,-0.75,-0.7,-0.65,-0.6,-0.55,-0.5,-0.45,-0.4,-0.35,-0.3,-0.25,-0.2,-0.15,-0.1,-0.05,0,0.05,0.1,0.15,0.2,0.25,0.3,0.35,0.4],
    "tickSize":{"condition":{"test":"abs(round(datum.value*100))%20===0","value":-13},"value":-7},
    "labelExpr":"abs(round(datum.value*100))%20===0 ? replace(format(datum.value,'.1f'),'\u2212','-') : ''",
    "labelPadding":20,"title":"c1-c2","titlePadding":14}}}},
{"data":{"name":"red"},"mark":{"type":"line","color":"#ff2a00","strokeWidth":2,"clip":true},
 "encoding":{
  "x":{"field":"z","type":"quantitative","scale":{"domain":[0,5],"nice":false,"zero":false},
   "axis":{"orient":"top","values":[0,0.1,0.2,0.3,0.4,0.5,0.6,0.7,0.8,0.9,1,1.1,1.2,1.3,1.4,1.5,1.6,1.7,1.8,1.9,2,2.1,2.2,2.3,2.4,2.5,2.6,2.7,2.8,2.9,3,3.1,3.2,3.3,3.4,3.5,3.6,3.7,3.8,3.9,4,4.1,4.2,4.3,4.4,4.5,4.6,4.7,4.8,4.9,5],
    "tickSize":{"condition":{"test":"abs(round(datum.value*10))%10===0","value":-13},"value":-7},
    "labels":false,"title":null}},
  "y":{"field":"c","type":"quantitative","scale":{"domain":[-1,0.4],"nice":false,"zero":false},
   "axis":{"orient":"right","values":[-1,-0.95,-0.9,-0.85,-0.8,-0.75,-0.7,-0.65,-0.6,-0.55,-0.5,-0.45,-0.4,-0.35,-0.3,-0.25,-0.2,-0.15,-0.1,-0.05,0,0.05,0.1,0.15,0.2,0.25,0.3,0.35,0.4],
    "tickSize":{"condition":{"test":"abs(round(datum.value*100))%20===0","value":-13},"value":-7},
    "labels":false,"title":null}}}},
{"data":{"name":"orange"},"mark":{"type":"line","color":"#ffaa00","strokeWidth":2,"clip":true},
 "encoding":{"x":{"field":"z","type":"quantitative","axis":null},"y":{"field":"c","type":"quantitative","axis":null}}},
{"data":{"name":"olive"},"mark":{"type":"line","color":"#6b7b48","strokeWidth":2,"clip":true},
 "encoding":{"x":{"field":"z","type":"quantitative","axis":null},"y":{"field":"c","type":"quantitative","axis":null}}},
{"data":{"name":"green"},"mark":{"type":"line","color":"#00e800","strokeWidth":2,"clip":true},
 "encoding":{"x":{"field":"z","type":"quantitative","axis":null},"y":{"field":"c","type":"quantitative","axis":null}}},
{"data":{"name":"cyan"},"mark":{"type":"line","color":"#00f0ff","strokeWidth":2,"clip":true},
 "encoding":{"x":{"field":"z","type":"quantitative","axis":null},"y":{"field":"c","type":"quantitative","axis":null}}}
]
}
